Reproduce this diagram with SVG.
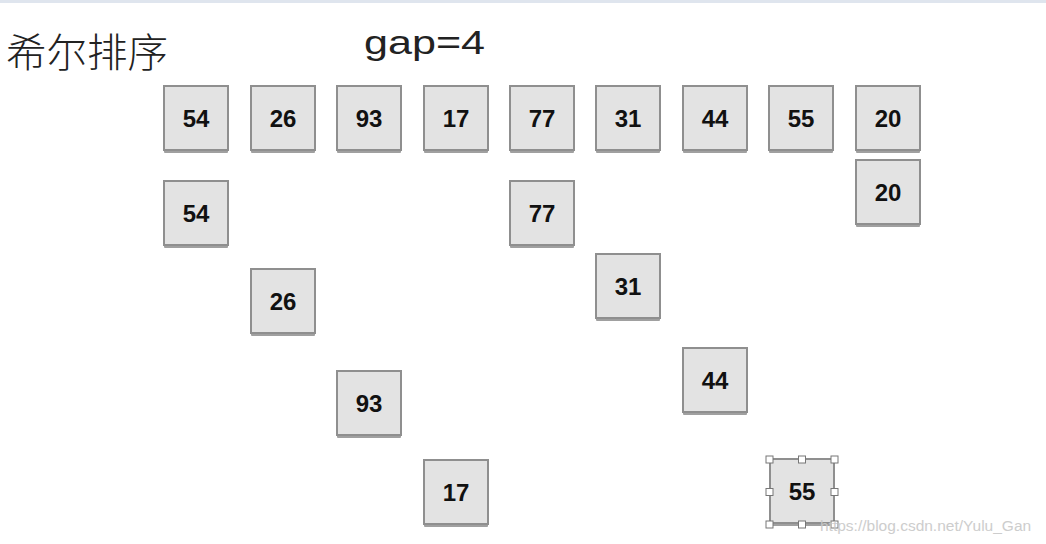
<svg xmlns="http://www.w3.org/2000/svg" width="1046" height="544" viewBox="0 0 1046 544">
<style>
.box text{font-family:"Liberation Sans",Arial,sans-serif;font-weight:bold;font-size:24px;fill:#111;text-anchor:middle}
.h{fill:#fff;stroke:#777;stroke-width:1}
</style>
<defs>
<g id="bx"><rect x="-32" y="-30" width="64" height="64" rx="1" fill="#a0a0a0"/><rect x="-32" y="-33" width="64" height="64" fill="#e3e3e3" stroke="#8f8f8f" stroke-width="2"/></g>
</defs>
<rect width="1046" height="544" fill="#fff"/>
<line x1="0" y1="1.5" x2="1046" y2="1.5" stroke="#dfe5ee" stroke-width="3"/>
<text x="6" y="67" font-family="'Noto Sans CJK SC',sans-serif" font-size="40" font-weight="300" fill="#222" textLength="162" lengthAdjust="spacingAndGlyphs">希尔排序</text>
<text x="364" y="54" font-family="'Liberation Sans',Arial,sans-serif" font-size="33" fill="#222" textLength="121" lengthAdjust="spacingAndGlyphs">gap=4</text>
<g id="n54a" class="box" transform="translate(196,119)"><use href="#bx"/><text y="8">54</text></g>
<g id="n26a" class="box" transform="translate(283,119)"><use href="#bx"/><text y="8">26</text></g>
<g id="n93a" class="box" transform="translate(369,119)"><use href="#bx"/><text y="8">93</text></g>
<g id="n17a" class="box" transform="translate(456,119)"><use href="#bx"/><text y="8">17</text></g>
<g id="n77a" class="box" transform="translate(542,119)"><use href="#bx"/><text y="8">77</text></g>
<g id="n31a" class="box" transform="translate(628,119)"><use href="#bx"/><text y="8">31</text></g>
<g id="n44a" class="box" transform="translate(715,119)"><use href="#bx"/><text y="8">44</text></g>
<g id="n55a" class="box" transform="translate(801,119)"><use href="#bx"/><text y="8">55</text></g>
<g id="n20a" class="box" transform="translate(888,119)"><use href="#bx"/><text y="8">20</text></g>
<g id="n54b" class="box" transform="translate(196,214)"><use href="#bx"/><text y="8">54</text></g>
<g id="n77b" class="box" transform="translate(542,214)"><use href="#bx"/><text y="8">77</text></g>
<g id="n20b" class="box" transform="translate(888,193)"><use href="#bx"/><text y="8">20</text></g>
<g id="n26b" class="box" transform="translate(283,302)"><use href="#bx"/><text y="8">26</text></g>
<g id="n31b" class="box" transform="translate(628,287)"><use href="#bx"/><text y="8">31</text></g>
<g id="n93b" class="box" transform="translate(369,404)"><use href="#bx"/><text y="8">93</text></g>
<g id="n44b" class="box" transform="translate(715,381)"><use href="#bx"/><text y="8">44</text></g>
<g id="n17b" class="box" transform="translate(456,493)"><use href="#bx"/><text y="8">17</text></g>
<g id="n55b" class="box" transform="translate(802,492)"><use href="#bx"/><text y="8">55</text>
<rect class="h" x="-36" y="-36" width="7" height="7"/><rect class="h" x="-3.5" y="-36" width="7" height="7"/><rect class="h" x="29" y="-36" width="7" height="7"/>
<rect class="h" x="-36" y="-3.5" width="7" height="7"/><rect class="h" x="29" y="-3.5" width="7" height="7"/>
<rect class="h" x="-36" y="29" width="7" height="7"/><rect class="h" x="-3.5" y="29" width="7" height="7"/><rect class="h" x="29" y="29" width="7" height="7"/>
</g>
<g id="connectors"/>
<text x="820" y="531" font-family="'Liberation Sans',Arial,sans-serif" font-size="15.5" fill="#c8c8c8" opacity="0.9">https://blog.csdn.net/Yulu_Gan</text>
</svg>
